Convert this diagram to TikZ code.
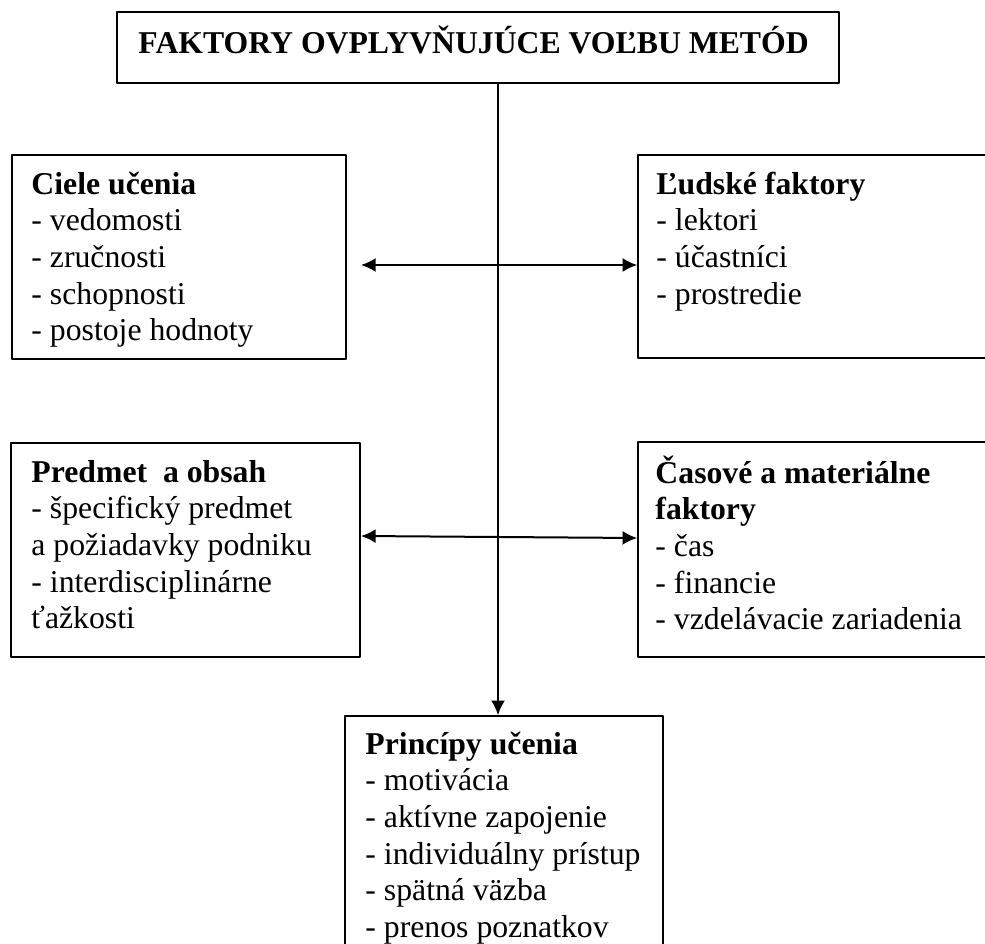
\documentclass[tikz,border=0pt]{standalone}
\usepackage{fontspec}
\setmainfont{Liberation Serif}
\usepackage{tikz}
\usetikzlibrary{arrows.meta,fit,calc}
\tikzset{>={Latex[length=11pt,width=10.5pt]}}
\newcommand{\bodysize}{\fontsize{23.8pt}{27.5pt}\selectfont}
\tikzset{
    box/.style={draw,line width=1.2pt,inner sep=0pt},
    boxtext/.style={anchor=north west,inner sep=0pt,align=left,font=\bodysize},
    arr/.style={line width=1.5pt}
}

\begin{document}
\begin{tikzpicture}[x=0.75pt,y=-0.75pt,line join = round]
    \useasboundingbox (0,0) rectangle (985,944);
    \clip (0,0) rectangle (985,944);
    \node[box,fit={(117,12) (839,83)}] (title) {};
    \node[anchor=base west,inner sep=0pt,font=\bodysize\bfseries] (titletext) at ([shift={(22,42)}]title.north west) {FAKTORY OVPLYVŇUJÚCE VOĽBU METÓD};
    \node[box,fit={(12,155) (346,359)}] (ciele) {};
    \node[boxtext] (cieletext) at ([shift={(20,14)}]ciele.north west) {\strut\textbf{Ciele učenia}\\- vedomosti\\- zručnosti\\- schopnosti\\- postoje hodnoty};
    \node[box,fit={(638,155) (1000,358)}] (ludske) {};
    \node[boxtext] (ludsketext) at ([shift={(19,14)}]ludske.north west) {\strut\textbf{Ľudské faktory}\\- lektori\\- účastníci\\- prostredie};
    \node[box,fit={(11,443) (360,657)}] (predmet) {};
    \node[boxtext] (predmettext) at ([shift={(21,14)}]predmet.north west) {\strut\textbf{Predmet~ a obsah}\\- špecifický predmet\\a požiadavky podniku\\- interdisciplinárne\\ťažkosti};
    \node[box,fit={(638,442) (1000,657)}] (casove) {};
    \node[boxtext] (casovetext) at ([shift={(18,14)}]casove.north west) {\strut\textbf{Časové a materiálne}\\\textbf{faktory}\\- čas\\- financie\\- vzdelávacie zariadenia};
    \node[box,fit={(345,716) (663,960)}] (principy) {};
    \node[boxtext] (principytext) at ([shift={(21,13)}]principy.north west) {\strut\textbf{Princípy učenia}\\- motivácia\\- aktívne zapojenie\\- individuálny prístup\\- spätná väzba\\- prenos poznatkov};
    \coordinate (stem) at (498,0);
    \coordinate (a1l) at (361,265);
    \coordinate (a2l) at (361,536);
    \draw[arr,->] (title.south -| stem) -- (principy.north -| stem);
    \draw[arr,<->] (a1l) -- (a1l -| ludske.west);
    \draw[arr,<->] (a2l) -- ($(casove.west)+(0,-11.5)$);
\end{tikzpicture}
\end{document}
